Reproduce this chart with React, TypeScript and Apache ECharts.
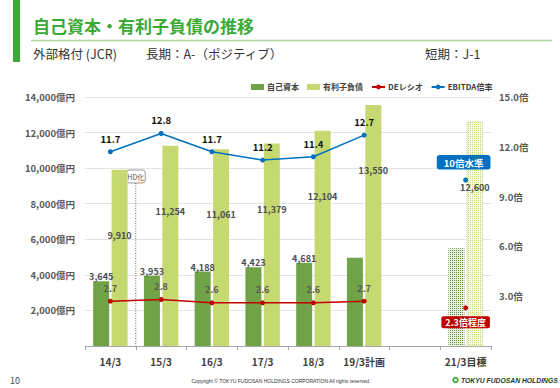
import React, { useEffect, useRef } from "react";
import * as echarts from "echarts";

const categories = ["14/3", "15/3", "16/3", "17/3", "18/3", "19/3計画", "", "21/3目標"];
const equity = [3645, 3953, 4188, 4423, 4681, 4966, null, 5500];
const debt = [9910, 11254, 11061, 11379, 12104, 13550, null, 12600];
const deRatio = [2.7, 2.8, 2.6, 2.6, 2.6, 2.7, null, 2.3];
const ebitda = [11.7, 12.8, 11.7, 11.2, 11.4, 12.7, null, 10];
const seriesNames = ["自己資本", "有利子負債", "DEレシオ", "EBITDA倍率"];
const targetTexts = ["2.3倍程度", "10倍水準"];
const planIndex = 5;
const targetIndex = 7;

const FONT = "'Noto Sans CJK JP', 'Noto Sans', sans-serif";
const DARK = "#70a347";
const LIGHT = "#c6d971";
const RED = "#c00000";
const BLUE = "#0070c0";
const LABEL = "#4d4d4d";

export default function App() {
  const ref = useRef<HTMLDivElement>(null);
  useEffect(() => {
    const chart = echarts.init(ref.current!, null, { renderer: "svg" });
    const numLabel = {
      fontFamily: FONT,
      fontSize: 9,
      fontWeight: "bold" as const,
      color: LABEL,
    };
    const option: any = {
      animation: false,
      textStyle: { fontFamily: FONT },
      legend: {
        top: 78,
        left: 246,
        itemWidth: 13,
        itemHeight: 6,
        itemGap: 8,
        textStyle: { fontFamily: FONT, fontSize: 8, fontWeight: "bold", color: "#404040", padding: [0, 0, 0, -2] },
        data: [
          { name: seriesNames[0], icon: "rect" },
          { name: seriesNames[1], icon: "rect" },
          { name: seriesNames[2] },
          { name: seriesNames[3] },
        ],
      },
      grid: { left: 85, right: 69, top: 97, bottom: 42, containLabel: false },
      xAxis: {
        type: "category",
        data: categories,
        axisLine: { lineStyle: { color: "#a6a6a6" } },
        axisTick: { show: true, length: 4, interval: 0, lineStyle: { color: "#a6a6a6" } },
        axisLabel: { interval: 0, fontFamily: FONT, fontSize: 10, fontWeight: "bold", color: "#404040", margin: 10 },
      },
      yAxis: [
        {
          type: "value",
          min: 0,
          max: 14000,
          interval: 2000,
          axisLine: { show: false },
          axisTick: { show: false },
          splitLine: { lineStyle: { color: "#e3e3e3" } },
          axisLabel: {
            fontFamily: FONT,
            fontSize: 9.5,
            fontWeight: "bold",
            color: "#595959",
            margin: 10,
            formatter: (v: number) => (v === 0 ? "" : v.toLocaleString("en-US") + "億円"),
          },
        },
        {
          type: "value",
          min: 0,
          max: 15,
          interval: 3,
          axisLine: { show: false },
          axisTick: { show: false },
          splitLine: { show: false },
          axisLabel: {
            fontFamily: FONT,
            fontSize: 9.5,
            fontWeight: "bold",
            color: "#595959",
            margin: 8,
            formatter: (v: number) => (v === 0 ? "" : v.toFixed(1) + "倍"),
          },
        },
      ],
      series: [
        {
          name: seriesNames[0],
          type: "bar",
          barWidth: 16,
          barGap: "15%",
          itemStyle: { color: DARK },
          label: {
            show: true,
            position: "top",
            distance: 0,
            ...numLabel,
            formatter: (p: any) => p.value.toLocaleString("en-US"),
          },
          data: equity.map((v, i) => {
            if (i === targetIndex)
              return {
                value: v,
                label: { show: false },
                itemStyle: {
                  color: "#e8efe0",
                  decal: {
                    symbol: "rect",
                    symbolSize: 1,
                    dashArrayX: [1, 1],
                    dashArrayY: [1, 1],
                    color: "#5f9040",
                  },
                },
              };
            if (i === planIndex) return { value: v, label: { show: false } };
            return v;
          }),
        },
        {
          name: seriesNames[1],
          type: "bar",
          barWidth: 16,
          barGap: "15%",
          itemStyle: { color: LIGHT },
          label: {
            show: true,
            position: "insideTop",
            offset: [0, 56],
            ...numLabel,
            formatter: (p: any) => p.value.toLocaleString("en-US"),
          },
          data: debt.map((v, i) => {
            if (i === targetIndex)
              return {
                value: v,
                itemStyle: {
                  color: "#fbfcf0",
                  borderColor: "#d6e39c",
                  borderWidth: 0.5,
                  decal: {
                    symbol: "rect",
                    symbolSize: 1,
                    dashArrayX: [1, 1],
                    dashArrayY: [1, 1],
                    color: "#c3d66c",
                  },
                },
              };
            return v;
          }),
        },
        {
          name: seriesNames[2],
          type: "line",
          yAxisIndex: 1,
          symbol: "circle",
          symbolSize: 5,
          connectNulls: false,
          lineStyle: { color: RED, width: 1.5 },
          itemStyle: { color: RED },
          label: {
            show: true,
            position: "top",
            distance: 6,
            fontFamily: FONT,
            fontSize: 9,
            fontWeight: "bold",
            color: "#595959",
          },
          data: deRatio.map((v, i) =>
            i === targetIndex
              ? {
                  value: v,
                  label: {
                    position: "bottom",
                    distance: 6,
                    formatter: targetTexts[0],
                    backgroundColor: RED,
                    color: "#fff",
                    fontWeight: "bold",
                    fontSize: 9,
                    borderRadius: 2,
                    padding: [2, 4, 1, 4],
                  },
                }
              : v
          ),
        },
        {
          name: seriesNames[3],
          type: "line",
          yAxisIndex: 1,
          symbol: "circle",
          symbolSize: 5,
          connectNulls: false,
          lineStyle: { color: BLUE, width: 1.5 },
          itemStyle: { color: BLUE },
          label: {
            show: true,
            position: "top",
            distance: 6,
            fontFamily: FONT,
            fontSize: 9.5,
            fontWeight: "bold",
            color: "#111",
          },
          data: ebitda.map((v, i) =>
            i === targetIndex
              ? {
                  value: v,
                  label: {
                    position: "top",
                    distance: 8,
                    offset: [-2, 0],
                    formatter: targetTexts[1],
                    backgroundColor: BLUE,
                    color: "#fff",
                    fontWeight: "bold",
                    fontSize: 9.5,
                    borderRadius: 3,
                    padding: [3, 7, 2, 7],
                  },
                }
              : v
          ),
        },
      ],
    };
    chart.setOption(option);

    const c0 = chart.convertToPixel({ xAxisIndex: 0 }, categories[0]) as number;
    const c1 = chart.convertToPixel({ xAxisIndex: 0 }, categories[1]) as number;
    const hdX = (c0 + c1) / 2;
    const y0 = chart.convertToPixel({ yAxisIndex: 0 }, 0) as number;

    chart.setOption({
      graphic: [
        { type: "rect", shape: { x: 13, y: 0, width: 7, height: 62 }, style: { fill: "#3aaa35" } },
        {
          type: "text",
          x: 33,
          y: 25,
          style: {
            text: "自己資本・有利子負債の推移",
            fontFamily: FONT,
            fontSize: 17,
            fontWeight: "bold",
            fill: "#3aaa35",
            verticalAlign: "middle",
          },
        },
        { type: "line", shape: { x1: 31, y1: 40.5, x2: 552, y2: 40.5 }, style: { stroke: "#a9d6a0", lineWidth: 1.5 } },
        {
          type: "text",
          x: 33,
          y: 53,
          style: { text: "外部格付 (JCR)", fontFamily: FONT, fontSize: 12.5, fill: "#333", verticalAlign: "middle" },
        },
        {
          type: "text",
          x: 146,
          y: 53,
          style: { text: "長期：A-（ポジティブ）", fontFamily: FONT, fontSize: 12.5, fill: "#333", verticalAlign: "middle" },
        },
        {
          type: "text",
          x: 425,
          y: 53,
          style: { text: "短期：J-1", fontFamily: FONT, fontSize: 12.5, fill: "#333", verticalAlign: "middle" },
        },
        {
          type: "line",
          shape: { x1: hdX, y1: 183, x2: hdX, y2: y0 },
          style: { stroke: "#444", lineWidth: 0.8, lineDash: [1, 1.5] },
        },
        {
          type: "rect",
          shape: { x: hdX - 9.5, y: 170, width: 19, height: 13, r: 3 },
          style: { fill: "#fff", stroke: "#808080", lineWidth: 0.8 },
        },
        {
          type: "text",
          x: hdX,
          y: 176.5,
          style: {
            text: "HD化",
            fontFamily: FONT,
            fontSize: 7,
            fill: "#555",
            align: "center",
            verticalAlign: "middle",
          },
        },
        {
          type: "text",
          x: 10,
          y: 380,
          style: { text: "10", fontFamily: FONT, fontSize: 9, fill: "#444", verticalAlign: "middle" },
        },
        {
          type: "text",
          x: 281,
          y: 381,
          style: {
            text: "Copyright © TOKYU FUDOSAN HOLDINGS CORPORATION All rights reserved.",
            fontFamily: "'Liberation Sans', sans-serif",
            fontSize: 5,
            fill: "#333",
            align: "center",
            verticalAlign: "middle",
          },
        },
        { type: "circle", shape: { cx: 455.5, cy: 380, r: 3.2 }, style: { fill: "#3aaa35" } },
        { type: "circle", shape: { cx: 455.5, cy: 380, r: 1.4 }, style: { fill: "#fff" } },
        {
          type: "text",
          x: 461,
          y: 380,
          scaleX: 0.85,
          style: {
            text: "TOKYU FUDOSAN HOLDINGS",
            fontFamily: "'Liberation Sans', sans-serif",
            fontSize: 8,
            fontWeight: "bold",
            fontStyle: "italic",
            fill: "#1e3a24",
            verticalAlign: "middle",
          },
        },
      ],
    });

    return () => chart.dispose();
  }, []);
  return (
    <div
      ref={ref}
      style={{ position: "fixed", left: 0, top: 0, width: 560, height: 388, background: "#fff" }}
    />
  );
}
